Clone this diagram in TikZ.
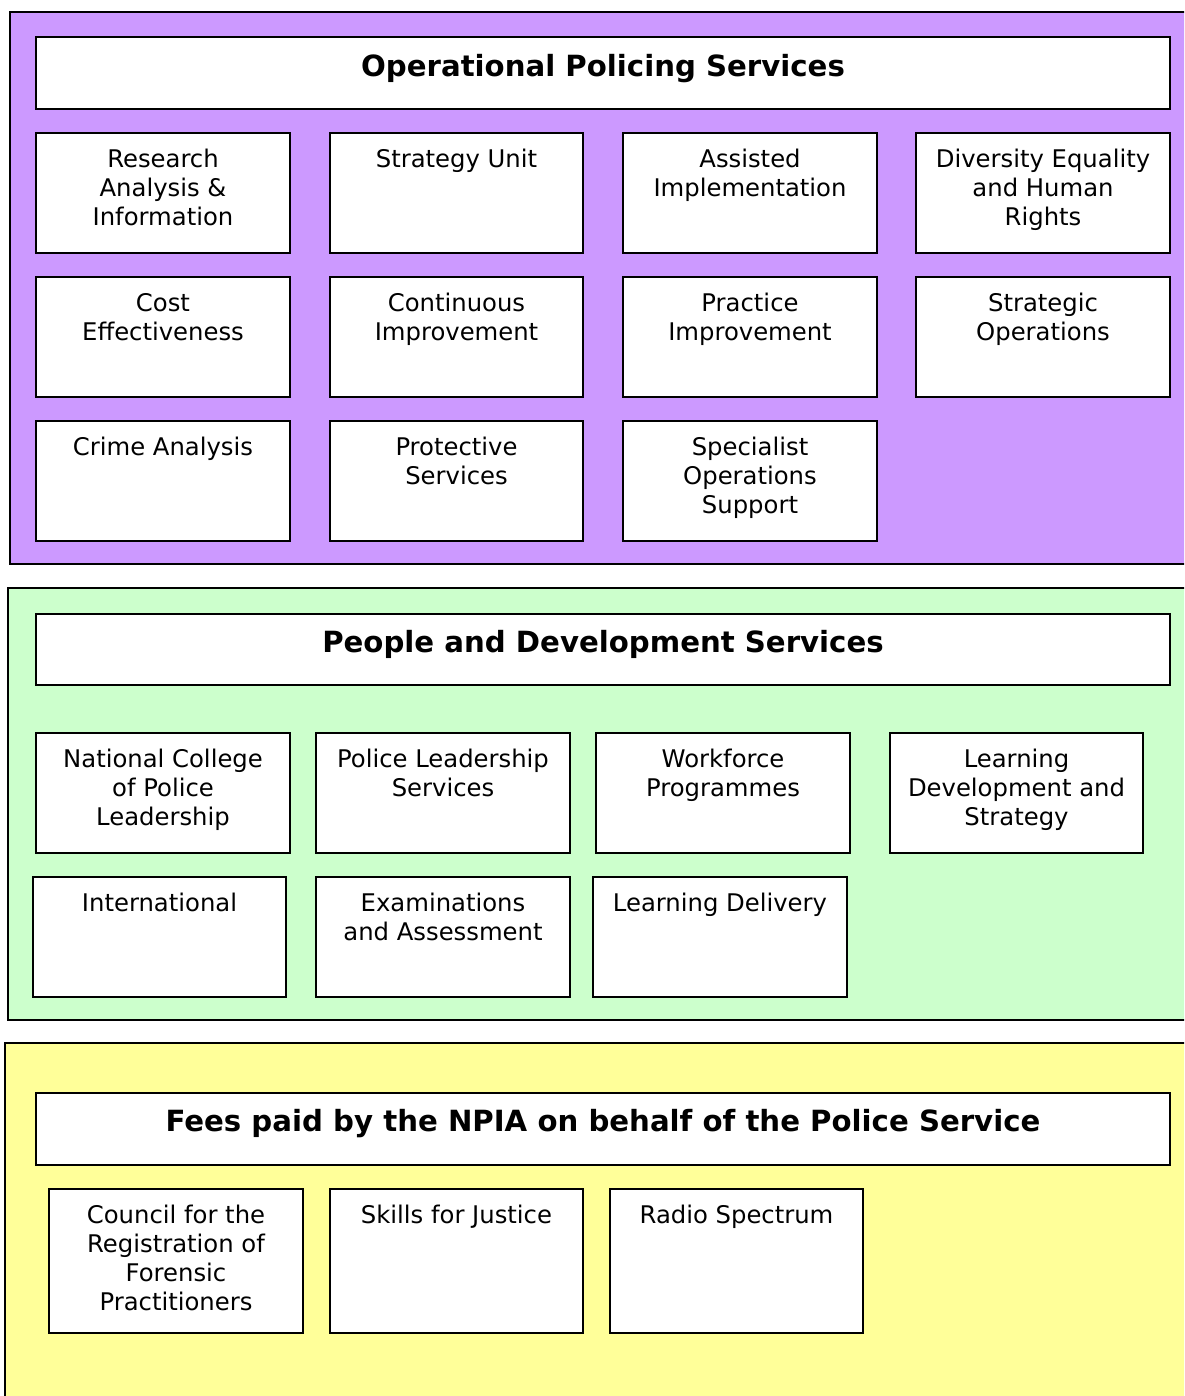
\documentclass[tikz,border=0pt]{standalone}
\usepackage{fontspec}
\setmainfont{DejaVu Sans}

\definecolor{opsviolet}{HTML}{CC99FF}
\definecolor{pdsgreen}{HTML}{CCFFCC}
\definecolor{feeyellow}{HTML}{FFFF99}

% text of a box, top aligned: [pad]{width}{height}{text}
\newcommand{\celltext}[4][14.5]{\parbox[t][#3pt][t]{#2pt}{\centering\vspace*{#1pt}\strut #4}}

\tikzset{
  panel/.style={draw=black, line width=2pt},
  cell/.style={draw=black, fill=white, line width=2pt, inner sep=0pt, anchor=north west,
    font=\fontsize{24.3}{29}\selectfont},
  headcell/.style={cell, font=\fontsize{29.2}{34}\selectfont\bfseries}
}

\begin{document}
\begin{tikzpicture}[x=1pt, y=-1pt]
	\clip (0,0) rectangle (1184,1396);
	\fill[white] (0,0) rectangle (1184,1396);

	% operational policing
	\draw[panel, fill=opsviolet] (10,12) rectangle (1200,564);
	\node[headcell] (ops) at (35,36) {\celltext[15.3]{1134}{72}{Operational Policing Services}};
	\node[cell] (research) at (35,132) {\celltext{254}{120}{Research\\Analysis \&\\Information}};
	\node[cell] (strategy) at (329,132) {\celltext{253}{120}{Strategy Unit}};
	\node[cell] (assisted) at (622,132) {\celltext{254}{120}{Assisted\\Implementation}};
	\node[cell] (diversity) at (915,132) {\celltext{254}{120}{Diversity Equality\\and Human\\Rights}};
	\node[cell] (cost) at (35,276) {\celltext{254}{120}{Cost\\Effectiveness}};
	\node[cell] (continuous) at (329,276) {\celltext{253}{120}{Continuous\\Improvement}};
	\node[cell] (practice) at (622,276) {\celltext{254}{120}{Practice\\Improvement}};
	\node[cell] (stratops) at (915,276) {\celltext{254}{120}{Strategic\\Operations}};
	\node[cell] (crime) at (35,420) {\celltext{254}{120}{Crime Analysis}};
	\node[cell] (protective) at (329,420) {\celltext{253}{120}{Protective\\Services}};
	\node[cell] (specialist) at (622,420) {\celltext{254}{120}{Specialist\\Operations\\Support}};

	% people and development
	\draw[panel, fill=pdsgreen] (8,588) rectangle (1200,1020);
	\node[headcell] (pds) at (35,613) {\celltext[14.3]{1134}{71}{People and Development Services}};
	\node[cell] (college) at (35,732) {\celltext{254}{120}{National College\\of Police\\Leadership}};
	\node[cell] (leadership) at (315,732) {\celltext{254}{120}{Police Leadership\\Services}};
	\node[cell] (workforce) at (595,732) {\celltext{254}{120}{Workforce\\Programmes}};
	\node[cell] (learndev) at (889,732) {\celltext{253}{120}{Learning\\Development and\\Strategy}};
	\node[cell] (international) at (32,876) {\celltext{253}{120}{International}};
	\node[cell] (exams) at (315,876) {\celltext{254}{120}{Examinations\\and Assessment}};
	\node[cell] (delivery) at (592,876) {\celltext{254}{120}{Learning Delivery}};

	% fees
	\draw[panel, fill=feeyellow] (5,1043) rectangle (1200,1420);
	\node[headcell] (fees) at (35,1092) {\celltext[15]{1134}{72}{Fees paid by the NPIA on behalf of the Police Service}};
	\node[cell] (council) at (48,1188) {\celltext{254}{144}{Council for the\\Registration of\\Forensic\\Practitioners}};
	\node[cell] (skills) at (329,1188) {\celltext{253}{144}{Skills for Justice}};
	\node[cell] (radio) at (609,1188) {\celltext{253}{144}{Radio Spectrum}};
\end{tikzpicture}
\end{document}
